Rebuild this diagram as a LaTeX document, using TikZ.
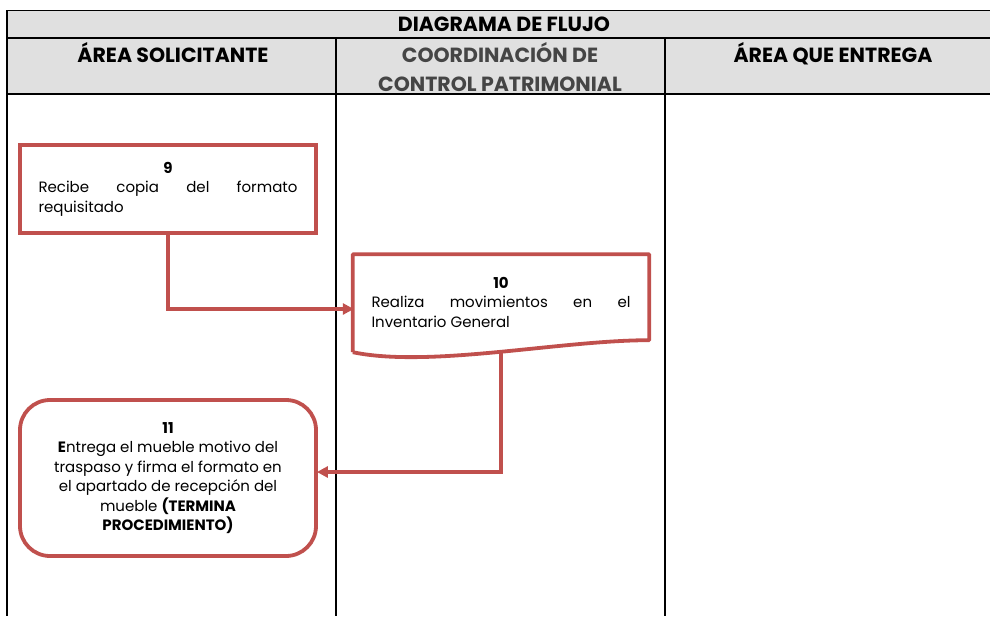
\documentclass[tikz,border=0pt]{standalone}
\usepackage{fontspec}
\setmainfont{Poppins}
\usepackage{tikz}
\usetikzlibrary{shapes, arrows.meta, positioning, calc}
\definecolor{boxred}{HTML}{C0504D}
\definecolor{headgray}{HTML}{E0E0E0}
\definecolor{coordgray}{HTML}{454545}

\begin{document}
\begin{tikzpicture}[
    x=1pt, y=-1pt,
    head/.style={font=\fontsize{20.5}{29}\selectfont\bfseries, align=center, inner sep=0pt},
    box/.style={rectangle, draw=boxred, line width=3.8pt, minimum width=296pt, minimum height=88pt, font=\fontsize{15}{19.5}\selectfont, text width=259pt, align=justify},
    docbox/.style={rectangle, minimum width=296pt, minimum height=95pt, font=\fontsize{15}{19.5}\selectfont, text width=259pt, align=justify},
    endbox/.style={rectangle, draw=boxred, line width=3.8pt, rounded corners=30pt, minimum width=296pt, minimum height=156pt, font=\fontsize{15}{19.5}\selectfont, align=center},
    flowline/.style={draw=boxred, line width=3.8pt},
    arrow/.style={-{Triangle[length=11pt, width=11pt]}, draw=boxred, line width=3.6pt, shorten >=-1pt},
]
    \useasboundingbox (0,0) rectangle (990,616);

    % header of the table
    \fill[headgray] (7,10.5) rectangle (990,94);
    \draw[line width=1.3pt] (990,10.5) -- (7,10.5) -- (7,616);
    \draw[line width=1.3pt] (7,38) -- (990,38);
    \draw[line width=1.3pt] (7,94) -- (990,94);
    \draw[line width=1.3pt] (336,38) -- (336,616);
    \draw[line width=1.3pt] (665,38) -- (665,616);

    \node[head] (title) at (504,24.5) {DIAGRAMA DE FLUJO};
    \node[head] (lane1) at (173,52.5) {ÁREA SOLICITANTE};
    \node[head, text=coordgray] (lane2) at (500,67) {COORDINACIÓN DE\\CONTROL PATRIMONIAL};
    \node[head] (lane3) at (833,53.5) {ÁREA QUE ENTREGA};

    % steps
    \node[box] (n9) at (168,189) {{\centering\textbf{9}\par}Recibe copia del formato\linebreak requisitado};
    \node[docbox] (n10) at (501,302) {{\centering\textbf{10}\par}Realiza movimientos en el\linebreak Inventario General};
    \draw[flowline, line join=round] ([yshift=-2.5pt]n10.south west) -- (n10.north west) -- (n10.north east)
        -- ([yshift=9.5pt]n10.south east) .. controls +(-89,0) and +(77,16) .. ([yshift=-2.5pt]n10.south west);
    \node[endbox] (n11) at (168,478) {\textbf{11}\\\textbf{E}ntrega el mueble motivo del\\traspaso y firma el formato en\\el apartado de recepción del\\mueble \textbf{(TERMINA}\\\textbf{PROCEDIMIENTO)}};

    % connectors
    \draw[arrow] (n9.south) |- ([yshift=-7pt]n10.west);
    \draw[arrow] ([yshift=-2pt]n10.south) |- ([yshift=6pt]n11.east);
\end{tikzpicture}
\end{document}
